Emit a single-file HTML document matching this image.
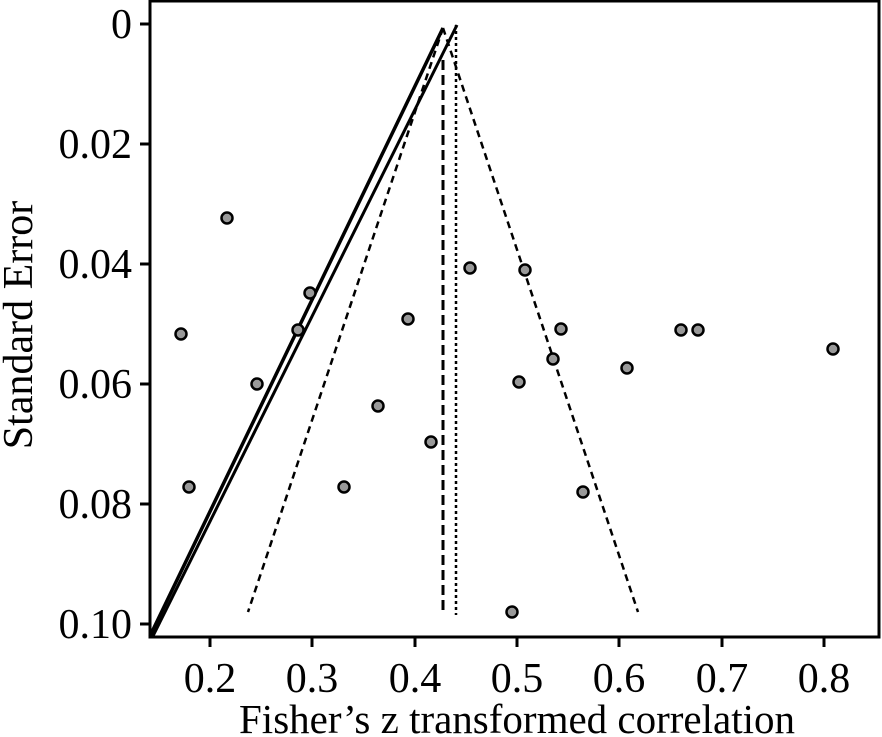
<!DOCTYPE html>
<html><head><style>body{margin:0;background:#fff}svg{display:block}</style></head><body>
<svg width="882" height="737" xmlns="http://www.w3.org/2000/svg" font-family="Liberation Serif, serif" font-size="42">
<rect x="150" y="1" width="729" height="636" fill="none" stroke="#000" stroke-width="3"/>
<g stroke="#000" stroke-width="3">
<line x1="140" y1="24" x2="150" y2="24"/><line x1="140" y1="144" x2="150" y2="144"/><line x1="140" y1="264" x2="150" y2="264"/><line x1="140" y1="384" x2="150" y2="384"/><line x1="140" y1="504" x2="150" y2="504"/><line x1="140" y1="624" x2="150" y2="624"/>
<line x1="210" y1="637" x2="210" y2="647"/><line x1="312" y1="637" x2="312" y2="647"/><line x1="415" y1="637" x2="415" y2="647"/><line x1="517" y1="637" x2="517" y2="647"/><line x1="619" y1="637" x2="619" y2="647"/><line x1="722" y1="637" x2="722" y2="647"/><line x1="824" y1="637" x2="824" y2="647"/>
</g>
<g text-anchor="end">
<text x="132" y="38">0</text><text x="132" y="158">0.02</text><text x="132" y="278">0.04</text><text x="132" y="398">0.06</text><text x="132" y="518">0.08</text><text x="132" y="638">0.10</text>
</g>
<g text-anchor="middle">
<text x="210" y="692">0.2</text><text x="312" y="692">0.3</text><text x="415" y="692">0.4</text><text x="517" y="692">0.5</text><text x="619" y="692">0.6</text><text x="722" y="692">0.7</text><text x="824" y="692">0.8</text>
<text x="517" y="733" font-size="41">Fisher’s z transformed correlation</text>
<text transform="translate(32,325) rotate(-90)" font-size="42">Standard Error</text>
</g>
<g stroke="#000" fill="none">
<line x1="443" y1="28" x2="150" y2="636" stroke-width="3.5"/>
<line x1="457" y1="25" x2="153" y2="636" stroke-width="3"/>
<line x1="443" y1="60" x2="443" y2="612" stroke-width="3" stroke-dasharray="10,5"/>
<line x1="456" y1="25" x2="456" y2="615" stroke-width="2.5" stroke-dasharray="3,3"/>
<line x1="443" y1="28" x2="248" y2="612" stroke-width="2.5" stroke-dasharray="7,5"/>
<line x1="443" y1="28" x2="638" y2="612" stroke-width="2.5" stroke-dasharray="7,5"/>
</g>
<g fill="#999" stroke="#000" stroke-width="2.5">
<circle cx="227" cy="218" r="5.5"/><circle cx="181" cy="334" r="5.5"/><circle cx="310" cy="293" r="5.5"/><circle cx="298" cy="330" r="5.5"/><circle cx="257" cy="384" r="5.5"/><circle cx="189" cy="487" r="5.5"/><circle cx="344" cy="487" r="5.5"/><circle cx="378" cy="406" r="5.5"/><circle cx="408" cy="319" r="5.5"/><circle cx="431" cy="442" r="5.5"/><circle cx="470" cy="268" r="5.5"/><circle cx="525" cy="270" r="5.5"/><circle cx="561" cy="329" r="5.5"/><circle cx="553" cy="359" r="5.5"/><circle cx="519" cy="382" r="5.5"/><circle cx="627" cy="368" r="5.5"/><circle cx="681" cy="330" r="5.5"/><circle cx="698" cy="330" r="5.5"/><circle cx="833" cy="349" r="5.5"/><circle cx="583" cy="492" r="5.5"/><circle cx="512" cy="612" r="5.5"/>
</g>
</svg>
</body></html>
